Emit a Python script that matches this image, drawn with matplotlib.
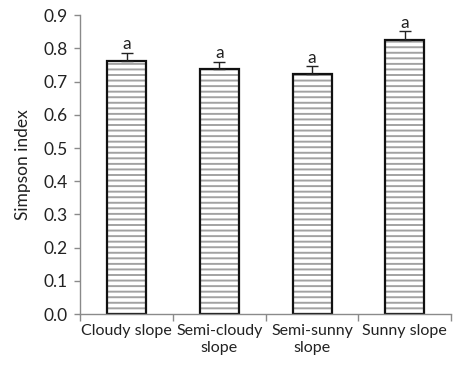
import matplotlib
matplotlib.use("Agg")
import matplotlib.pyplot as plt
import numpy as np

categories = ["Cloudy slope", "Semi-cloudy\nslope", "Semi-sunny\nslope", "Sunny slope"]
simpson = [0.762, 0.737, 0.722, 0.824]
errors = [0.025, 0.022, 0.024, 0.027]
letters = ["a", "a", "a", "a"]
yticks = [0.0, 0.1, 0.2, 0.3, 0.4, 0.5, 0.6, 0.7, 0.8, 0.9]

plt.rcParams["font.family"] = ["Lato", "DejaVu Sans"]
plt.rcParams["hatch.linewidth"] = 1.4

fig = plt.figure(figsize=(4.53, 3.70), dpi=100)
ax = fig.add_axes([0.177, 0.151, 0.819, 0.808])

x = np.arange(len(categories))
# light grey texture inside the bars
ax.bar(x, simpson, width=0.42, facecolor="white", edgecolor="#a2a2a2",
       linewidth=0, hatch="---", zorder=2)
# dark outline
ax.bar(x, simpson, width=0.42, facecolor="none", edgecolor="#111111",
       linewidth=1.6, zorder=2.5)
ax.errorbar(x, simpson, yerr=[np.zeros(len(errors)), errors], fmt="none",
            ecolor="#222222", elinewidth=1.0, capsize=4, capthick=1.0, zorder=3)
for xi, v, e, t in zip(x, simpson, errors, letters):
    ax.text(xi, v + e + 0.002, t, ha="center", va="bottom", fontsize=12.5, color="#222222")

ax.set_xlim(-0.5, len(categories) - 0.5)
ax.set_ylim(0, 0.9)
ax.set_yticks(yticks)
ax.set_yticklabels([f"{v:.1f}" for v in yticks])
ax.set_xticks(x)
ax.set_xticklabels(categories, fontsize=11.5, color="#222222", linespacing=1.3)
ax.tick_params(axis="x", length=0, pad=7)
# category boundary ticks on the x axis
ax.set_xticks(np.arange(len(categories) + 1) - 0.5, minor=True)
ax.tick_params(axis="x", which="minor", length=5, color="#8a8a8a", width=1)
ax.tick_params(axis="y", length=4, color="#8a8a8a", width=1, labelsize=12.5,
               labelcolor="#222222", pad=5)
ax.set_ylabel("Simpson index", fontsize=12.5, color="#222222", labelpad=9)

for s in ["top", "right"]:
    ax.spines[s].set_visible(False)
for s in ["left", "bottom"]:
    ax.spines[s].set_color("#8a8a8a")
    ax.spines[s].set_linewidth(1)

fig.savefig("out.png", dpi=100, facecolor="white")
